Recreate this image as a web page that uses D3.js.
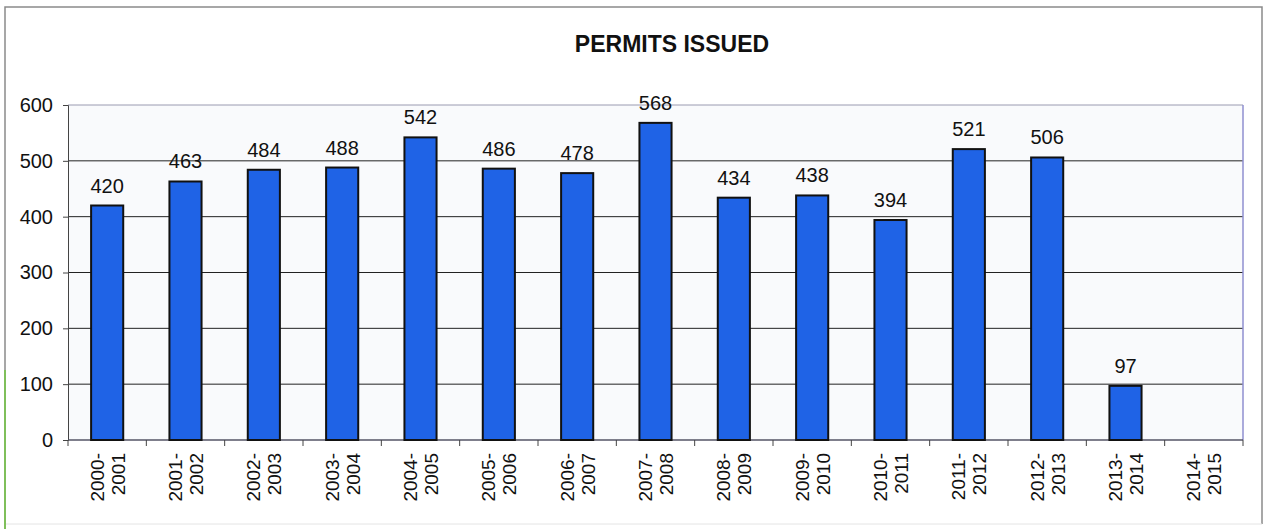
<!DOCTYPE html>
<html>
<head>
<meta charset="utf-8">
<script src="https://cdn.jsdelivr.net/npm/d3@7"></script>
<style>
  body { margin: 0; background: #fff; }
  text { font-family: "Liberation Sans", Arial, sans-serif; fill: #111; }
</style>
</head>
<body>
<div id="chart"></div>
<script>
const seasons = ["2000-2001", "2001-2002", "2002-2003", "2003-2004", "2004-2005",
  "2005-2006", "2006-2007", "2007-2008", "2008-2009", "2009-2010",
  "2010-2011", "2011-2012", "2012-2013", "2013-2014", "2014-2015"];
const permits = [420, 463, 484, 488, 542, 486, 478, 568, 434, 438, 394, 521, 506, 97, null];
const yTicks = [0, 100, 200, 300, 400, 500, 600];
const chartTitle = "PERMITS ISSUED";

const W = 1265, H = 529;
const margin = { top: 105, right: 22, bottom: 89, left: 68 };
const width = W - margin.left - margin.right;
const height = H - margin.top - margin.bottom;

const svg = d3.select("#chart").append("svg")
  .attr("width", W).attr("height", H);

// outer frame
svg.append("rect")
  .attr("x", 5).attr("y", 7).attr("width", 1257).attr("height", 517)
  .attr("fill", "#fff").attr("stroke", "none");
svg.append("path")
  .attr("d", "M5,529 V7 H1262 V524")
  .attr("fill", "none").attr("stroke", "#8a8a8a").attr("stroke-width", 1.5);
svg.append("line")
  .attr("x1", 5).attr("x2", 1262).attr("y1", 524).attr("y2", 524)
  .attr("stroke", "#e4e4e4").attr("stroke-width", 1);
svg.append("line")
  .attr("x1", 5).attr("x2", 5).attr("y1", 370).attr("y2", 529)
  .attr("stroke", "#7fbf5a").attr("stroke-width", 2);

svg.append("text")
  .attr("x", 672).attr("y", 52)
  .attr("text-anchor", "middle")
  .attr("font-size", 23).attr("font-weight", "bold")
  .text(chartTitle);

const g = svg.append("g").attr("transform", `translate(${margin.left},${margin.top})`);

const x = d3.scaleBand().domain(seasons).range([0, width]).paddingInner(0.59).paddingOuter(0.295);
const xBand = d3.scaleBand().domain(seasons).range([0, width]);
const y = d3.scaleLinear().domain([0, 600]).range([height, 0]);

g.append("rect")
  .attr("width", width).attr("height", height)
  .attr("fill", "#f9fafc");

// gridlines
g.append("g")
  .selectAll("line")
  .data(yTicks.filter(d => d > 0 && d < 600))
  .join("line")
  .attr("x1", 0).attr("x2", width)
  .attr("y1", d => y(d)).attr("y2", d => y(d))
  .attr("stroke", "#222").attr("stroke-width", 1);

// plot border top / right
g.append("line").attr("x1", 0).attr("x2", width).attr("y1", 0).attr("y2", 0)
  .attr("stroke", "#9a9ab0").attr("stroke-width", 1);
g.append("line").attr("x1", width).attr("x2", width).attr("y1", 0).attr("y2", height)
  .attr("stroke", "#8f8fd0").attr("stroke-width", 1.5);

// y axis
const yAxis = g.append("g")
  .call(d3.axisLeft(y).tickValues(yTicks).tickSize(5).tickPadding(10));
yAxis.select(".domain").attr("stroke", "#444");
yAxis.selectAll(".tick line").attr("stroke", "#444");
yAxis.selectAll("text").attr("font-size", 20).attr("fill", "#111")
  .attr("font-family", "'Liberation Sans', Arial, sans-serif");

// x axis: ticks at band boundaries
const xAxisG = g.append("g").attr("transform", `translate(0,${height})`);
xAxisG.append("line").attr("x1", 0).attr("x2", width)
  .attr("stroke", "#556").attr("stroke-width", 1.5);
xAxisG.selectAll("line.tk")
  .data(seasons.concat(["end"]))
  .join("line").attr("class", "tk")
  .attr("x1", (d, i) => i * xBand.step()).attr("x2", (d, i) => i * xBand.step())
  .attr("y1", 0).attr("y2", 6)
  .attr("stroke", "#444");

const labels = xAxisG.selectAll("text.lbl")
  .data(seasons)
  .join("text").attr("class", "lbl")
  .attr("transform", d => `translate(${xBand(d) + xBand.bandwidth() / 2 - 10},13) rotate(-90)`)
  .attr("text-anchor", "end")
  .attr("font-size", 19);
labels.append("tspan").attr("x", 0).attr("dy", "0.35em").text(d => d.split("-")[0] + "-");
labels.append("tspan").attr("x", 0).attr("dy", "1.1em").text(d => d.split("-")[1]);

// bars
const barData = seasons.map((s, i) => ({ s, v: permits[i] })).filter(d => d.v != null);
g.selectAll(".bar")
  .data(barData)
  .join("rect").attr("class", "bar")
  .attr("x", d => x(d.s))
  .attr("width", x.bandwidth())
  .attr("y", d => y(d.v))
  .attr("height", d => height - y(d.v))
  .attr("fill", "#1f63e6")
  .attr("stroke", "#111").attr("stroke-width", 2);

g.selectAll(".val")
  .data(barData)
  .join("text").attr("class", "val")
  .attr("x", d => x(d.s) + x.bandwidth() / 2)
  .attr("y", d => y(d.v) - 13)
  .attr("text-anchor", "middle")
  .attr("font-size", 20)
  .text(d => d.v);
</script>
</body>
</html>
